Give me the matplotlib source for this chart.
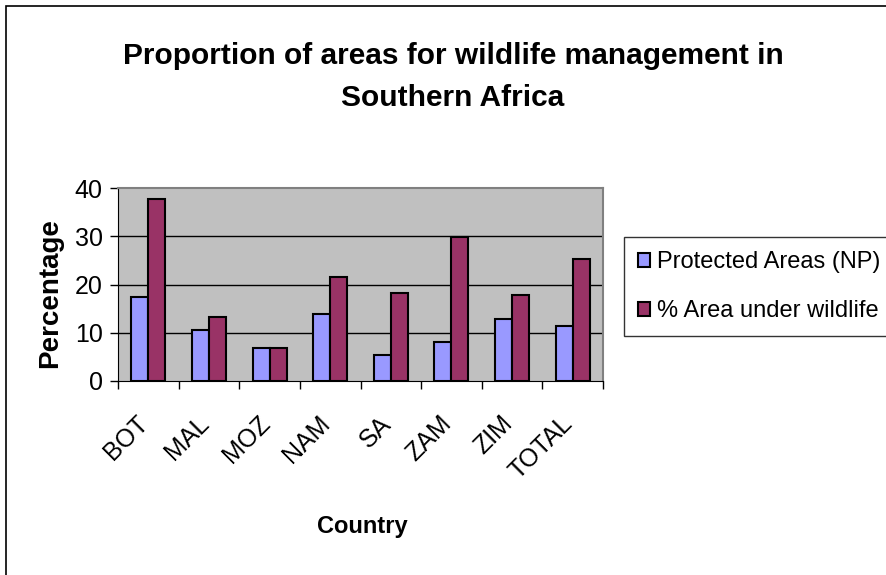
import numpy as np
import matplotlib
matplotlib.use('Agg')
import matplotlib.pyplot as plt
from matplotlib.patches import Rectangle

# wildlife management areas by country (%)
countries = ['BOT', 'MAL', 'MOZ', 'NAM', 'SA', 'ZAM', 'ZIM', 'TOTAL']
protected = [17.4, 10.5, 6.8, 13.8, 5.4, 8.1, 12.8, 11.4]
wildlife = [37.7, 13.3, 6.8, 21.6, 18.3, 29.9, 17.9, 25.3]
series_names = ['Protected Areas (NP)', '% Area under wildlife']
yticks = [0, 10, 20, 30, 40]

plt.rcParams['font.family'] = ['Liberation Sans', 'DejaVu Sans']

W, H = 886, 575
fig = plt.figure(figsize=(W/100, H/100), dpi=100)

# outer chart frame
fig.patches.append(Rectangle((6/W, -0.1), 1.2, 1 - 6/H + 0.1, transform=fig.transFigure,
                             fill=False, ec='black', lw=1.2))

ax = fig.add_axes([118/W, 1 - 381/H, (603 - 118)/W, (381 - 188)/H])
ax.set_facecolor('#C0C0C0')

x = np.arange(len(countries))
w = 0.28
b1 = ax.bar(x - w/2, protected, w, color='#9999FF', edgecolor='black', lw=1.5,
            label=series_names[0], zorder=3)
b2 = ax.bar(x + w/2, wildlife, w, color='#993366', edgecolor='black', lw=1.5,
            label=series_names[1], zorder=3)

ax.set_xlim(-0.5, len(countries) - 0.5)
ax.set_ylim(0, 40)
ax.set_yticks(yticks)
for g in yticks[1:-1]:
    ax.axhline(g, color='black', lw=1, zorder=1)

# labels sit a little left of the group centre, ticks mark group boundaries
ax.set_xticks(x - 0.2)
ax.set_xticklabels(countries, rotation=45, ha='right', rotation_mode='anchor', fontsize=18)
ax.set_xticks(np.arange(len(countries) + 1) - 0.5, minor=True)
ax.tick_params(axis='x', which='major', length=0, pad=22)
ax.tick_params(axis='x', which='minor', length=6, width=1, direction='out')
ax.tick_params(axis='y', length=6, width=1, direction='out', labelsize=18, pad=5)

for s in ['top', 'right']:
    ax.spines[s].set_color('#808080')
    ax.spines[s].set_linewidth(1.5)
ax.spines['left'].set_color('black')
ax.spines['bottom'].set_color('black')

fig.text(453/W, 1 - 77/H, 'Proportion of areas for wildlife management in\nSouthern Africa',
         ha='center', va='center', fontsize=21.5, fontweight='bold', linespacing=1.68)
fig.text(50/W, 1 - 293/H, 'Percentage', rotation=90, ha='center', va='center',
         fontsize=20, fontweight='bold')
fig.text(362/W, 1 - 527/H, 'Country', ha='center', va='center', fontsize=17,
         fontweight='bold')

leg = fig.legend(handles=[b1, b2], loc='upper left', bbox_to_anchor=(624/W, 1 - 237/H),
                 frameon=True, fancybox=False, edgecolor='black', fontsize=17,
                 handlelength=0.5, handleheight=0.5, handletextpad=0.3,
                 labelspacing=1.15, borderpad=0.6, borderaxespad=0)
leg.get_frame().set_linewidth(1)

fig.savefig('out.png', dpi=100)
